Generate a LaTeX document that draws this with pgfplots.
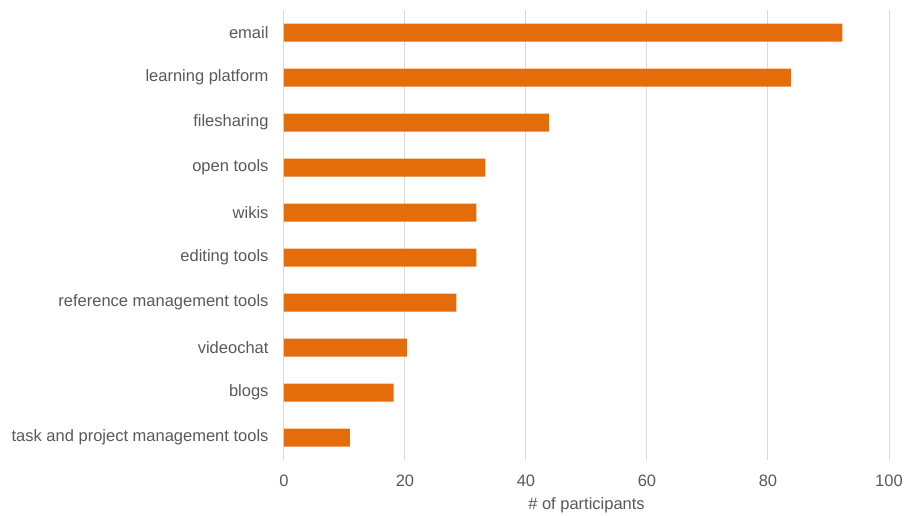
\documentclass[border=0pt]{standalone}
\usepackage{fontspec}
\setmainfont{Liberation Sans}
\usepackage{pgfplots}
\pgfplotsset{compat=1.18}
\definecolor{barorange}{HTML}{E46C0A}
\definecolor{txtgray}{HTML}{595959}
\definecolor{gridgray}{HTML}{D9D9D9}
\begin{document}
\begin{tikzpicture}
\useasboundingbox (-284pt,-55pt) rectangle (624pt,460pt);
\begin{axis}[
  at={(0,0)}, anchor=south west,
  scale only axis,
  width=605pt, height=450pt,
  xbar, bar width=18pt,
  xmin=0, xmax=100,
  ymin=-0.5, ymax=9.5,
  y dir=reverse,
  xtick={0,20,...,100},
  ytick={0,...,9},
  yticklabels={email,learning platform,filesharing,open tools,wikis,editing tools,reference management tools,videochat,blogs,task and project management tools},
  axis line style={draw=none},
  major tick length=0pt,
  xmajorgrids=true,
  grid style={gridgray, line width=1pt},
  tick label style={font=\fontsize{16.5}{19}\selectfont, text=txtgray},
  /pgf/number format/assume math mode=true,
  xticklabel style={yshift=-11pt},
  yticklabel style={xshift=-12pt},
  xlabel={\# of participants},
  xlabel style={font=\fontsize{16.5}{19}\selectfont, text=txtgray, yshift=-4pt},
  clip=false,
]
\addplot[fill=barorange, draw=none] coordinates {
(92.3,0) (83.8,1) (43.8,2) (33.3,3) (31.8,4) (31.8,5) (28.5,6) (20.3,7) (18.1,8) (10.9,9)
};
\end{axis}
\end{tikzpicture}
\end{document}
